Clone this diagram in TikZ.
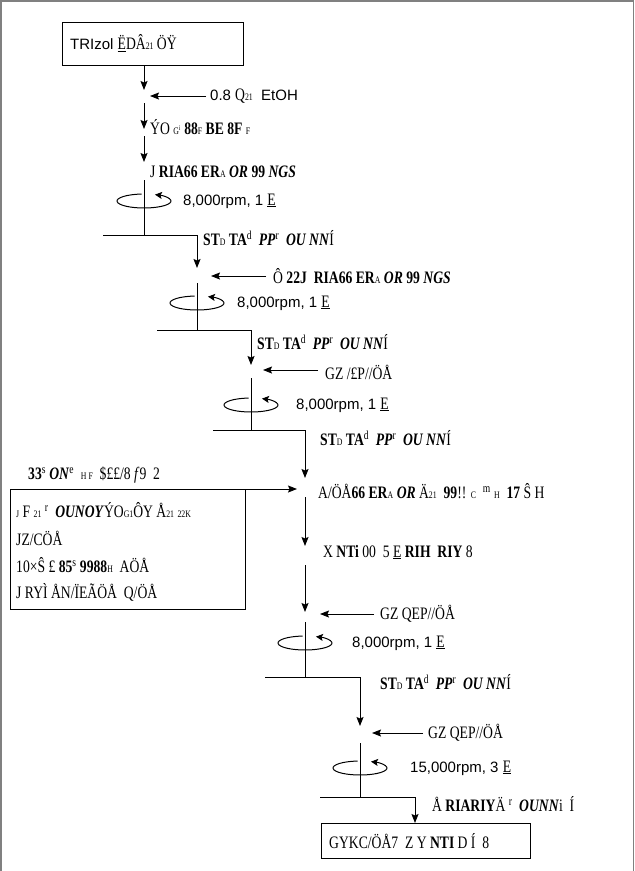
\documentclass[tikz,border=0pt]{standalone}
\usepackage{fontspec}
\usepackage{graphicx}
\setmainfont{Liberation Sans}
\newfontfamily\gf{Liberation Serif}
\usetikzlibrary{arrows.meta}
% condensed serif run, small-size run
\newcommand{\gt}[1]{{\gf\fontsize{17.5}{20}\selectfont\scalebox{0.78}[1]{#1}}}
\newcommand{\sm}[1]{{\fontsize{10}{10}\selectfont #1}}
\tikzset{
  every node/.style={font=\fontsize{15}{18}\selectfont, inner sep=0pt},
  lbl/.style={anchor=west},
  flow/.style={line width=0.9pt, -{Stealth[length=9pt,width=7pt,inset=1.5pt]}},
  wire/.style={line width=0.9pt},
  spin/.style={line width=1pt, -{Stealth[length=7pt,width=7pt,inset=1.5pt]}},
  boxed/.style={draw, line width=0.9pt, anchor=north west}
}
% rotation symbol drawn round a point on a wire
\newcommand{\spinat}[1]{\draw[spin] (#1) ++(265:27 and 7) arc[start angle=265, end angle=-66, x radius=27, y radius=7];}
\begin{document}
\begin{tikzpicture}[x=1pt, y=-1pt]
\useasboundingbox (0,0) rectangle (635,871);
% outer frame
\draw[gray, line width=1.5pt] (1,871) -- (1,1) -- (633.5,1) -- (633.5,871);

% ---------- source box ----------
\node[boxed, minimum width=181, minimum height=43] (src) at (62,22) {};
\node[lbl] (srct) at (70,43) {TRIzol \gt{\underline{Ë}DÂ\sm{21} ÖŸ}};

% ---------- step 1 ----------
\coordinate (a1) at (144,90);
\draw[flow] (src.south -| a1) -- (a1);
\node[lbl] (etoh) at (210,96) {0.8 \gt{Q\sm{21}}\ \ EtOH};
\coordinate (e1) at (150,96);
\draw[flow] (etoh.west) ++(-4,0) -- (e1);
\coordinate (a2s) at (144,103);
\coordinate (a2) at (144,129);
\draw[flow] (a2s) -- (a2);
\node[lbl] (ta) at (150,127) {\gt{ÝO \sm{G\textsuperscript{i}} \textbf{88}\sm{F} \textbf{BE} \textbf{8F} \sm{F}}};
\coordinate (a3s) at (144,136);
\coordinate (a3) at (144,162);
\draw[flow] (a3s) -- (a3);
\node[lbl] (tb) at (150,172) {\gt{J \textbf{RIA66} \textbf{ER}\sm{A} \textbf{\textit{OR}} \textbf{99} \textbf{\textit{NGS}}}};
\coordinate (s1t) at (144,180);
\coordinate (s1c) at (144,201);
\coordinate (s1b) at (144,235);
\draw[wire] (s1t) -- (s1b);
\spinat{s1c}
\node[lbl] (r1) at (183,201) {8,000rpm, 1 \gt{\underline{E}}};
\coordinate (h1l) at (103,235);
\coordinate (h1r) at (197,235);
\coordinate (a4) at (197,268);
\draw[wire] (h1l) -- (h1r);
\draw[flow] (h1r) -- (a4);
\node[lbl] (sup1) at (203,238) {\gt{\textbf{ST}\sm{D} \textbf{TA}\textsuperscript{d} \ \textbf{\textit{PP}}\textsuperscript{r} \ \textbf{\textit{OU NN}}Í}};

% ---------- step 2 ----------
\node[lbl] (tc) at (273,276) {\gt{Ô \textbf{22J} \ \textbf{RIA66} \textbf{ER}\sm{A} \textbf{\textit{OR}} \textbf{99} \textbf{\textit{NGS}}}};
\coordinate (e2) at (211,276);
\draw[flow] (tc.west) ++(-7,0) -- (e2);
\coordinate (s2t) at (197,283);
\coordinate (s2c) at (197,303);
\coordinate (s2b) at (197,330);
\draw[wire] (s2t) -- (s2b);
\spinat{s2c}
\node[lbl] (r2) at (237,303) {8,000rpm, 1 \gt{\underline{E}}};
\coordinate (h2l) at (157,330);
\coordinate (h2r) at (251,330);
\coordinate (a5) at (251,365);
\draw[wire] (h2l) -- (h2r);
\draw[flow] (h2r) -- (a5);
\node[lbl] (sup2) at (257,342) {\gt{\textbf{ST}\sm{D} \textbf{TA}\textsuperscript{d} \ \textbf{\textit{PP}}\textsuperscript{r} \ \textbf{\textit{OU NN}}Í}};

% ---------- step 3 ----------
\node[lbl] (td) at (325,372) {\gt{GZ /£P//ÖÅ}};
\coordinate (e3) at (263,370);
\draw[flow] (td.west) ++(-7,-2) -- (e3);
\coordinate (s3t) at (251,378);
\coordinate (s3c) at (251,405);
\coordinate (s3b) at (251,430);
\draw[wire] (s3t) -- (s3b);
\spinat{s3c}
\node[lbl] (r3) at (296,405) {8,000rpm, 1 \gt{\underline{E}}};
\coordinate (h3l) at (213,430);
\coordinate (h3r) at (305,430);
\coordinate (a6) at (305,478);
\draw[wire] (h3l) -- (h3r);
\draw[flow] (h3r) -- (a6);
\node[lbl] (sup3) at (320,438) {\gt{\textbf{ST}\sm{D} \textbf{TA}\textsuperscript{d} \ \textbf{\textit{PP}}\textsuperscript{r} \ \textbf{\textit{OU NN}}Í}};

% ---------- side box ----------
\node[lbl] (te) at (28,475) {\gt{\textbf{33}\textsuperscript{s} \textbf{\textit{ON}}\textsuperscript{e} \ \sm{H F} \ \$££/8 \textit{f}9 \ 2}};
\node[boxed, minimum width=235, minimum height=120] (side) at (10,489) {};
\node[lbl] (b1) at (16,510) {\gt{\sm{J} F \sm{21} \textsuperscript{r} \ \textbf{\textit{OUNOY}}ÝO\sm{G1}ÔY Å\sm{21} \sm{22K}}};
\node[lbl] (b2) at (16,538) {\gt{JZ/CÖÅ}};
\node[lbl] (b3) at (16,565) {\gt{10×Ŝ £ \textbf{85}\textsuperscript{s} \textbf{9988}\sm{H} \ AÖÅ}};
\node[lbl] (b4) at (16,592) {\gt{J RYÌ ÅN/ÏEÃÖÅ \ Q/ÖÅ}};
\coordinate (a7) at (297,489);
\draw[flow] (side.north east) -- (a7);

% ---------- step 4 ----------
\node[lbl] (tf) at (318,491) {\gt{A/ÖÅ\textbf{66} \textbf{ER}\sm{A} \textbf{\textit{OR}} Ä\sm{21} \ \textbf{99}!! \sm{C} \ \textsuperscript{m} \sm{H} \ \textbf{17} Ŝ H}};
\coordinate (a8s) at (305,497);
\coordinate (a8) at (305,546);
\draw[flow] (a8s) -- (a8);
\node[lbl] (tg) at (323,552) {\gt{X \textbf{NTi} 00 \ 5 \underline{E} \textbf{RIH} \ \textbf{RIY} 8}};
\coordinate (a9s) at (305,565);
\coordinate (a9) at (305,612);
\draw[flow] (a9s) -- (a9);
\node[lbl] (th1) at (380,614) {\gt{GZ QEP//ÖÅ}};
\coordinate (e4) at (320,614);
\draw[flow] (th1.west) ++(-6,0) -- (e4);
\coordinate (s4t) at (305,622);
\coordinate (s4c) at (305,643);
\coordinate (s4b) at (305,677);
\draw[wire] (s4t) -- (s4b);
\spinat{s4c}
\node[lbl] (r4) at (352,643) {8,000rpm, 1 \gt{\underline{E}}};
\coordinate (h4l) at (265,677);
\coordinate (h4r) at (360,677);
\coordinate (a10) at (360,726);
\draw[wire] (h4l) -- (h4r);
\draw[flow] (h4r) -- (a10);
\node[lbl] (sup4) at (380,682) {\gt{\textbf{ST}\sm{D} \textbf{TA}\textsuperscript{d} \ \textbf{\textit{PP}}\textsuperscript{r} \ \textbf{\textit{OU NN}}Í}};

% ---------- step 5 ----------
\node[lbl] (th2) at (428,733) {\gt{GZ QEP//ÖÅ}};
\coordinate (e5) at (372,733);
\draw[flow] (th2.west) ++(-5,0) -- (e5);
\coordinate (s5t) at (360,743);
\coordinate (s5c) at (360,768);
\coordinate (s5b) at (360,797);
\draw[wire] (s5t) -- (s5b);
\spinat{s5c}
\node[lbl] (r5) at (410,768) {15,000rpm, 3 \gt{\underline{E}}};
\coordinate (h5l) at (320,797);
\coordinate (h5r) at (415,797);
\draw[wire] (h5l) -- (h5r);
\node[lbl] (ti) at (432,804) {\gt{Å \textbf{RIARIY}Ä \textsuperscript{r} \ \textbf{\textit{OUNN}}i \ Í}};

% ---------- product box ----------
\node[boxed, minimum width=209, minimum height=35] (prod) at (321,823) {};
\node[lbl] (prodt) at (329,841) {\gt{GYKC/ÖÅ7 \ Z Y \textbf{NTI} D Í \ 8}};
\draw[flow] (h5r) -- (h5r |- prod.north);
\end{tikzpicture}
\end{document}
